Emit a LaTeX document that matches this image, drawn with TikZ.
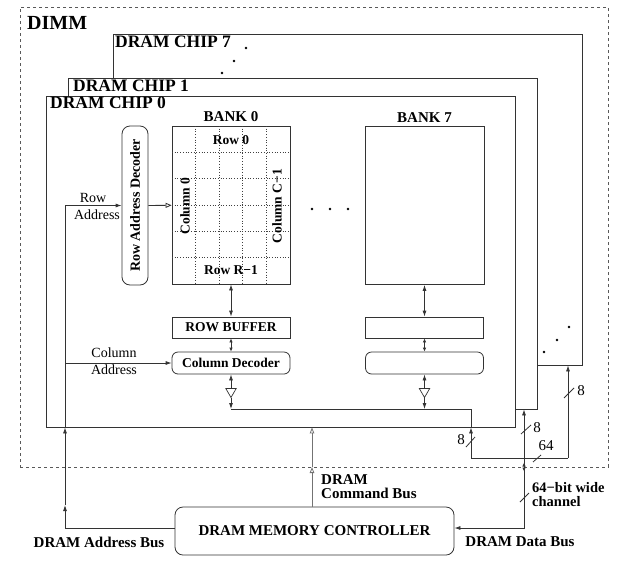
\documentclass[tikz,border=0pt]{standalone}
\usepackage{fontspec}
\setmainfont{Liberation Serif}
\usetikzlibrary{arrows.meta,shapes.geometric}
\tikzset{
  LineStyle/.style  = {draw=black!80, line width=0.8pt},
  ChipStyle/.style  = {LineStyle, fill=white, inner sep=0pt,
                       minimum width=469pt, minimum height=331pt},
  ChipLabel/.style  = {anchor=base west, inner sep=0pt,
                       font=\fontsize{17.5}{18}\selectfont\bfseries},
  BoxStyle/.style   = {LineStyle, inner sep=0pt, minimum width=118pt,
                       font=\fontsize{13.5}{14}\selectfont\bfseries},
  DecStyle/.style   = {BoxStyle, rounded corners=6pt},
  BufStyle/.style   = {draw=black!80, line width=0.7pt, fill=white,
                       isosceles triangle, shape border rotate=-90,
                       isosceles triangle apex angle=60, inner sep=0pt,
                       minimum width=8pt, minimum height=9pt},
  TextStyle/.style  = {inner sep=0pt, font=\fontsize{13.5}{14}\selectfont\bfseries},
  PlainStyle/.style = {inner sep=0pt, font=\fontsize{14}{16}\selectfont},
  BusLabel/.style   = {inner sep=0pt, font=\fontsize{15}{14}\selectfont\bfseries},
  EdgeStyle/.style  = {LineStyle, -{Latex[length=6pt,width=4pt]}},
  BothStyle/.style  = {LineStyle, {Latex[length=6pt,width=4pt]}-{Latex[length=6pt,width=4pt]}},
  ShortStyle/.style = {LineStyle, {Latex[length=4pt,width=3.5pt]}-{Latex[length=4pt,width=3.5pt]}},
  OpenStyle/.style  = {LineStyle, -{Triangle[open,length=6pt,width=5pt]}},
  CmdStyle/.style   = {draw=black!55, line width=0.8pt, -{Triangle[open,length=6pt,width=4.5pt]}},
  GridStyle/.style  = {draw=black!75, line width=0.7pt, dotted},
}

\begin{document}
\begin{tikzpicture}[x=1pt,y=-1pt]
  \useasboundingbox (0,0) rectangle (628,568);

  % DIMM and the chips on it
  \node[draw=black!65, dashed, line width=0.8pt, minimum width=588pt,
        minimum height=460pt] (dimm) at (314,237) {};
  \node[anchor=base west, inner sep=0pt,
        font=\fontsize{20}{20}\selectfont\bfseries] (dimmlabel) at (27,29) {DIMM};
  \node[ChipStyle] (chip7) at (347.5,199.5) {};
  \node[ChipLabel] (chip7label) at (115,47) {DRAM CHIP 7};
  \foreach \x/\y in {222/73, 234/61, 246/48, 544/352, 557/340, 569/327}
    \fill (\x,\y) circle (1.4pt);
  \node[ChipStyle] (chip1) at (303,243.5) {};
  \node[ChipLabel] (chip1label) at (73,91) {DRAM CHIP 1};
  \node[ChipStyle] (chip0) at (281,261.5) {};
  \node[ChipLabel] (chip0label) at (50,108) {DRAM CHIP 0};

  % bank 0 with its grid
  \node[LineStyle, minimum width=118pt, minimum height=158pt] (bank0) at (231,205) {};
  \foreach \x in {195.6, 219.2, 242.8, 266.4}
    \draw[GridStyle] (\x,126) -- (\x,284);
  \foreach \y in {152.3, 178.7, 205, 231.3, 257.7}
    \draw[GridStyle] (172,\y) -- (290,\y);
  \node[TextStyle, anchor=base, font=\fontsize{15}{15}\selectfont\bfseries]
    (bank0label) at ([yshift=4pt]bank0.north) {BANK 0};
  \node[TextStyle] (row0) at (231,140) {Row 0};
  \node[TextStyle] (rowR) at (231,270) {Row R−1};
  \node[TextStyle, rotate=90] (col0) at (185,206) {Column 0};
  \node[TextStyle, rotate=90] (colC) at (277,206) {Column C−1};

  \node[DecStyle, rounded corners=8pt, minimum width=26pt, minimum height=159pt]
    (rowdec) at (135,205.5) {};
  \node[TextStyle, rotate=90, font=\fontsize{14}{14}\selectfont\bfseries]
    (rowdeclabel) at (rowdec) {Row Address Decoder};

  \node[BoxStyle, minimum height=21pt] (rowbuf0) at (231,327.5) {ROW BUFFER};
  \node[DecStyle, minimum height=22pt] (coldec0) at (231,363) {Column Decoder};
  \node[BufStyle] (buf0) at (231,391.5) {};

  % bank 7
  \node[LineStyle, minimum width=119pt, minimum height=158pt] (bank7) at (424.5,205.5) {};
  \node[TextStyle, anchor=base, font=\fontsize{15}{15}\selectfont\bfseries]
    (bank7label) at ([yshift=4pt]bank7.north) {BANK 7};
  \node[BoxStyle, minimum height=21pt] (rowbuf7) at (424.5,327.5) {};
  \node[DecStyle, minimum height=22pt] (coldec7) at (424.5,363) {};
  \node[BufStyle] (buf7) at (424.5,391.5) {};
  \foreach \x in {312, 330, 348}
    \fill (\x,209) circle (1.4pt);

  \draw[BothStyle] (bank0) -- (rowbuf0);
  \draw[ShortStyle] (rowbuf0) -- (coldec0);
  \draw[EdgeStyle] (buf0) -- (coldec0);
  \draw[BothStyle] (bank7) -- (rowbuf7);
  \draw[ShortStyle] (rowbuf7) -- (coldec7);
  \draw[EdgeStyle] (buf7) -- (coldec7);
  \draw[OpenStyle] (rowdec) -- (bank0);

  % memory controller
  \node[LineStyle, rounded corners=8pt, minimum width=279pt, minimum height=48pt,
        font=\fontsize{15}{15}\selectfont\bfseries] (ctrl) at (314.5,531)
        {DRAM MEMORY CONTROLLER};

  % address bus
  \coordinate (abus) at (65,505);
  \draw[EdgeStyle] ([yshift=3pt]ctrl.west) -| (abus);
  \draw[EdgeStyle] (abus) -- (abus |- chip0.south);
  \draw[EdgeStyle] (abus |- chip0.south) |- (rowdec.west);
  \draw[EdgeStyle] (abus |- coldec0.west) -- (coldec0.west);
  \node[PlainStyle] (rowlabel) at (93,198) {Row};
  \node[PlainStyle] (rowaddr) at (97,215) {Address};
  \node[PlainStyle] (collabel) at (114,353) {Column};
  \node[PlainStyle] (coladdr) at (114,370) {Address};
  \node[BusLabel] (addrlabel) at (99,542) {DRAM Address Bus};

  % command bus
  \coordinate (cmd) at (312,467);
  \draw[CmdStyle] (ctrl.north -| cmd) -- (cmd);
  \draw[CmdStyle] (cmd) -- (cmd |- chip0.south);
  \node[BusLabel, anchor=west, align=left] (cmdlabel) at (321,487) {DRAM\\Command Bus};

  % data bus
  \coordinate (dbus0) at (471,409);
  \coordinate (dsplit0) at (471,458);
  \coordinate (dsplit7) at (568,458);
  \coordinate (dcross) at (524,467);
  \draw[EdgeStyle] (buf0) -- (buf0 |- dbus0);
  \draw[EdgeStyle] (buf7) -- (buf7 |- dbus0);
  \draw[LineStyle] (buf0 |- dbus0) -| (dbus0 |- chip0.south);
  \draw[EdgeStyle] (dsplit0) -- (dsplit0 |- chip0.south);
  \draw[LineStyle] (dsplit0) -- (dsplit7);
  \draw[EdgeStyle] (dsplit7) -- (dsplit7 |- chip7.south);
  \draw[EdgeStyle] (dcross) -- (dcross |- chip1.south);
  \draw[EdgeStyle] (dcross) |- ([yshift=3pt]ctrl.east);
  \draw[ShortStyle] ([yshift=4.5pt]dcross) -- ([yshift=-4.5pt]dcross);

  % bus widths
  \draw[LineStyle] (466,447) -- (475,437);
  \draw[LineStyle] (521,434) -- (531,425);
  \draw[LineStyle] (533,462) -- (541,455);
  \draw[LineStyle] (564,398) -- (574,388);
  \draw[LineStyle] (520,502) -- (529,493);
  \node[PlainStyle, font=\fontsize{15}{16}\selectfont] (width8a) at (461,440) {8};
  \node[PlainStyle, font=\fontsize{15}{16}\selectfont] (width8b) at (537,428) {8};
  \node[PlainStyle, font=\fontsize{15}{16}\selectfont] (width64) at (546,446) {64};
  \node[PlainStyle, font=\fontsize{15}{16}\selectfont] (width8c) at (581,391) {8};
  \node[BusLabel, anchor=west, align=left, font=\fontsize{14.5}{14}\selectfont\bfseries]
    (chanlabel) at (532,495) {64−bit wide\\channel};
  \node[BusLabel] (datalabel) at (520,542) {DRAM Data Bus};
\end{tikzpicture}
\end{document}
